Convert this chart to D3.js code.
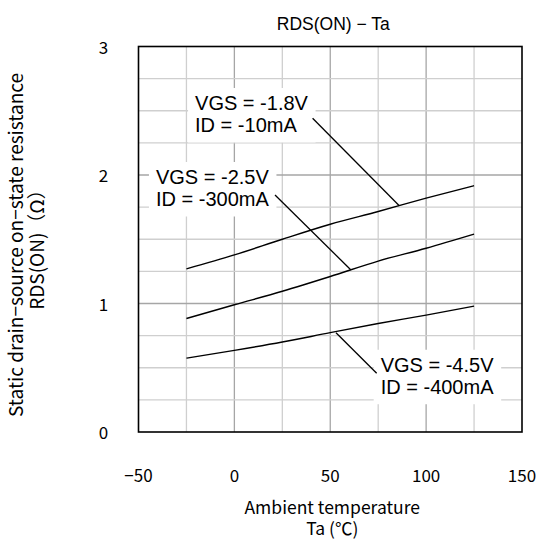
<!DOCTYPE html>
<html>
<head>
<meta charset="utf-8">
<script src="https://cdn.jsdelivr.net/npm/d3@7"></script>
<style>
  body { margin: 0; background: #fff; }
  svg { display: block; }
</style>
</head>
<body>
<div id="chart"></div>
<script>
// Ambient temperature (°C) sampled along each curve
var temps = [-25, 0, 25, 50, 75, 100, 125];

// RDS(ON) values (ohm)
var rds18 = [1.27, 1.378, 1.50, 1.617, 1.716, 1.82, 1.917];
var rds25 = [0.883, 0.99, 1.095, 1.21, 1.33, 1.43, 1.54];
var rds45 = [0.575, 0.635, 0.70, 0.773, 0.844, 0.91, 0.98];

var xTicks = [-50, 0, 50, 100, 150];
var yTicks = [0, 1, 2, 3];
var xGrid = [-25, 0, 25, 50, 75, 100, 125];
var yGrid = [0.25, 0.5, 0.75, 1, 1.25, 1.5, 1.75, 2, 2.25, 2.5, 2.75];

// label text, anchor (data units) and leader line (data units)
var labels = [
  { lines: ["VGS = -1.8V", "ID = -10mA"], x: -20.5, y: 2.506, lead: [[40.8, 2.441], [86.0, 1.761]] },
  { lines: ["VGS = -2.5V", "ID = -300mA"], x: -40.9, y: 1.93, lead: [[21.2, 1.844], [60.8, 1.261]] },
  { lines: ["VGS = -4.5V", "ID = -400mA"], x: 76.3, y: 0.469, lead: [[53.0, 0.773], [74.2, 0.457]] }
];

var W = 545, H = 539;
var margin = { top: 46.5, right: 23, bottom: 107, left: 138.5 };
var width = W - margin.left - margin.right,
    height = H - margin.top - margin.bottom;

var svg = d3.select("#chart").append("svg")
    .attr("width", W)
    .attr("height", H);

var g = svg.append("g")
    .attr("transform", "translate(" + margin.left + "," + margin.top + ")");

var x = d3.scaleLinear().domain([-50, 150]).range([0, width]);
var y = d3.scaleLinear().domain([0, 3]).range([height, 0]);

var gothic = "'Noto Sans CJK JP', 'DejaVu Sans', sans-serif";
var arial = "'Liberation Sans', Arial, sans-serif";

// grid
g.selectAll(".vgrid").data(xGrid).enter().append("line")
    .attr("x1", function (d) { return x(d); })
    .attr("x2", function (d) { return x(d); })
    .attr("y1", 0).attr("y2", height)
    .attr("stroke", function (d) { return d % 50 === 0 ? "#a6a6a6" : "#cfcfcf"; })
    .attr("stroke-width", 1.3);

g.selectAll(".hgrid").data(yGrid).enter().append("line")
    .attr("y1", function (d) { return y(d); })
    .attr("y2", function (d) { return y(d); })
    .attr("x1", 0).attr("x2", width)
    .attr("stroke", function (d) { return d % 1 === 0 ? "#a6a6a6" : "#cfcfcf"; })
    .attr("stroke-width", 1.3);

// curves
var line = d3.line()
    .x(function (d) { return x(d[0]); })
    .y(function (d) { return y(d[1]); })
    .curve(d3.curveMonotoneX);

[rds18, rds25, rds45].forEach(function (vals) {
  g.append("path")
      .datum(temps.map(function (t, i) { return [t, vals[i]]; }))
      .attr("d", line)
      .attr("fill", "none")
      .attr("stroke", "#000")
      .attr("stroke-width", 1.4);
});

// labels with white boxes
labels.forEach(function (lb) {
  var grp = g.append("g");
  var rect = grp.append("rect").attr("fill", "#fff");
  var txt = grp.append("text")
      .attr("x", x(lb.x))
      .attr("y", y(lb.y))
      .style("font-family", arial)
      .style("font-size", "20px")
      .attr("fill", "#000");
  lb.lines.forEach(function (s, i) {
    txt.append("tspan")
        .attr("x", x(lb.x))
        .attr("dy", i === 0 ? 0 : 22.5)
        .text(s);
  });
  var bb = txt.node().getBBox();
  rect.attr("x", bb.x - 7).attr("y", bb.y - 4)
      .attr("width", bb.width + 14).attr("height", bb.height + 10);
  g.append("line")
      .attr("x1", x(lb.lead[0][0])).attr("y1", y(lb.lead[0][1]))
      .attr("x2", x(lb.lead[1][0])).attr("y2", y(lb.lead[1][1]))
      .attr("stroke", "#000")
      .attr("stroke-width", 1.3);
});

// frame
g.append("rect")
    .attr("width", width).attr("height", height)
    .attr("fill", "none")
    .attr("stroke", "#000")
    .attr("stroke-width", 1.6);

// tick labels
g.selectAll(".xt").data(xTicks).enter().append("text")
    .attr("x", function (d) { return x(d); })
    .attr("y", height + 50)
    .attr("text-anchor", "middle")
    .style("font-family", gothic)
    .style("font-size", "17px")
    .text(function (d) { return String(d).replace("-", "\u2212"); });

g.selectAll(".yt").data(yTicks).enter().append("text")
    .attr("x", -35)
    .attr("y", function (d) { return y(d) + 7; })
    .attr("text-anchor", "middle")
    .style("font-family", gothic)
    .style("font-size", "17px")
    .text(function (d) { return d; });

// title
svg.append("text")
    .attr("x", margin.left + width / 2 + 3)
    .attr("y", 30)
    .attr("text-anchor", "middle")
    .style("font-family", arial)
    .style("font-size", "17.5px")
    .text("RDS(ON) \u2212 Ta");

// x axis title (two lines in one text)
var cx = margin.left + width / 2 + 2;
var xt = svg.append("text")
    .attr("x", cx)
    .attr("y", 514)
    .attr("text-anchor", "middle")
    .style("font-family", gothic)
    .style("font-size", "17.5px");
xt.append("tspan").attr("x", cx).attr("dy", 0).text("Ambient temperature");
xt.append("tspan").attr("x", cx).attr("dy", 21).text("Ta (\u2103)");

// y axis title
var yt = svg.append("text")
    .attr("transform", "translate(23,245) rotate(-90)")
    .attr("text-anchor", "middle")
    .style("font-family", gothic)
    .style("font-size", "19px");
yt.append("tspan").attr("x", 0).attr("dy", 0).text("Static drain\u2212source on\u2212state resistance");
yt.append("tspan").attr("x", 0).attr("dy", 21).text("RDS(ON)\uff08\u03a9\uff09");
</script>
</body>
</html>
